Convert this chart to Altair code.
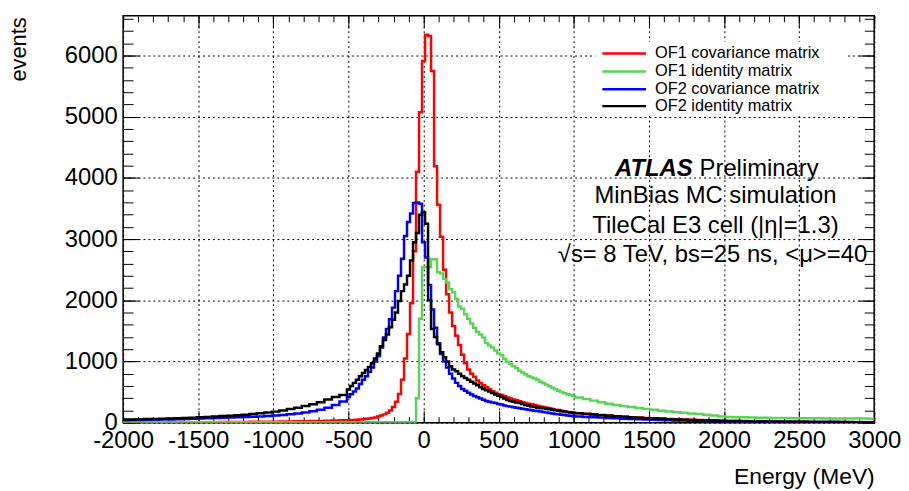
import altair as alt
import numpy as np
import pandas as pd

# ---------------- binning (MeV): 50 MeV in the far tails, 20 MeV in the core ----------------
LEFT_EDGES = np.arange(-2010, -510, 50)    # 30 bins
CORE_EDGES = np.arange(-510, 1010, 20)     # 76 bins (centres -500 ... 1000)
RIGHT_EDGES = np.arange(1010, 3010, 50)    # 40 bins
LAST_EDGE = 3010

# ---------------- events per bin ----------------
OF1_COV_LEFT = [3, 3, 4, 4, 4, 5, 5, 6, 6, 7, 7, 8, 8, 9, 10, 11, 12, 13, 14, 15,
                16, 18, 20, 22, 24, 26, 29, 32, 35, 38]
OF1_COV_CORE = [40, 42, 45, 48, 52, 56, 62, 68, 75, 85,
                100, 115, 135, 160, 200, 255, 340, 470, 700, 1050,
                1450, 1950, 2800, 4100, 5075, 5910, 6340, 6320, 5750, 4190,
                3560, 3040, 2500, 2100, 1800, 1580, 1420, 1270, 1110, 970,
                870, 800, 750, 690, 650, 610, 580, 545, 515, 490,
                465, 450, 430, 410, 395, 380, 365, 350, 335, 320,
                310, 300, 290, 278, 265, 255, 245, 235, 222, 212,
                205, 195, 185, 175, 168, 160]
OF1_COV_RIGHT = [155, 145, 135, 125, 115, 105, 98, 90, 84, 78, 72, 66, 60, 55, 50, 46, 42, 38, 35, 32,
                 29, 27, 25, 23, 21, 19, 17, 16, 15, 14, 13, 12, 11, 10, 10, 9, 8, 8, 7, 7]

OF1_ID_LEFT = [4, 4, 5, 5, 5, 5, 5, 5, 5, 5, 5, 5, 5, 5, 5, 5, 5, 5, 5, 5,
               5, 5, 5, 5, 5, 5, 5, 6, 6, 6]
OF1_ID_CORE = [6, 6, 6, 6, 6, 6, 6, 6, 6, 6,
               6, 6, 6, 6, 6, 6, 6, 6, 6, 6,
               7, 8, 10, 400, 1700, 2540, 2540, 2540, 2670, 2670,
               2460, 2440, 2350, 2290, 2180, 2130, 2020, 1900, 1860, 1770,
               1700, 1620, 1550, 1480, 1440, 1390, 1300, 1260, 1230, 1180,
               1130, 1100, 1040, 990, 960, 920, 890, 850, 820, 790,
               760, 740, 720, 700, 670, 645, 620, 595, 570, 545,
               520, 500, 480, 465, 450, 430]
OF1_ID_RIGHT = [410, 385, 360, 335, 310, 290, 270, 255, 240, 225, 210, 195, 182, 170, 160, 150, 140, 128, 115, 100,
                92, 90, 87, 84, 81, 80, 78, 76, 75, 73, 72, 71, 70, 69, 68, 68, 67, 66, 66, 65]

OF2_COV_LEFT = [40, 42, 44, 46, 48, 50, 53, 56, 60, 64, 68, 72, 76, 80, 84, 88, 92, 97, 102, 108,
                115, 125, 137, 150, 165, 185, 210, 245, 290, 345]
OF2_COV_CORE = [420, 465, 510, 560, 630, 700, 760, 830, 900, 1000,
                1090, 1230, 1390, 1530, 1690, 1880, 2150, 2400, 2680, 3050,
                3280, 3420, 3590, 3600, 3580, 2950, 2700, 2250, 1850, 1550,
                1300, 1120, 1000, 900, 800, 720, 650, 600, 550, 520,
                490, 460, 435, 415, 395, 375, 355, 340, 330, 320,
                305, 295, 280, 270, 262, 252, 243, 235, 228, 218,
                210, 203, 196, 189, 182, 175, 166, 158, 150, 143,
                136, 130, 124, 118, 112, 106]
OF2_COV_RIGHT = [100, 94, 88, 82, 76, 70, 64, 58, 54, 50, 46, 42, 39, 36, 33, 30, 28, 26, 24, 22,
                 20, 19, 18, 17, 16, 15, 14, 13, 12, 11, 11, 10, 10, 9, 9, 8, 8, 7, 7, 7]

OF2_ID_LEFT = [50, 52, 55, 58, 61, 64, 68, 72, 77, 82, 88, 94, 100, 107, 114, 122, 130, 140, 152, 165,
               180, 200, 222, 245, 272, 300, 335, 380, 420, 450]
OF2_ID_CORE = [540, 600, 650, 700, 760, 810, 860, 910, 970, 1050,
               1130, 1250, 1350, 1440, 1560, 1680, 1800, 1990, 2150, 2260,
               2400, 2650, 2950, 3100, 3400, 3440, 3250, 2000, 1530, 1400,
               1280, 1150, 1070, 1000, 920, 870, 840, 800, 760, 730,
               700, 670, 640, 610, 580, 550, 530, 510, 485, 460,
               440, 420, 395, 370, 355, 340, 330, 322, 305, 290,
               275, 265, 255, 245, 240, 235, 228, 220, 212, 204,
               196, 188, 180, 172, 165, 158]
OF2_ID_RIGHT = [152, 142, 132, 122, 112, 104, 96, 88, 80, 74, 68, 62, 56, 52, 48, 44, 40, 37, 34, 31,
                28, 26, 24, 22, 20, 18, 17, 16, 15, 14, 13, 12, 11, 10, 10, 9, 9, 8, 8, 7]

SERIES = ["OF1 covariance matrix", "OF1 identity matrix", "OF2 covariance matrix", "OF2 identity matrix"]
COLORS = ["#ff0000", "#59d454", "#0000ff", "#000000"]
VALUES = [
    (OF1_COV_LEFT, OF1_COV_CORE, OF1_COV_RIGHT),
    (OF1_ID_LEFT, OF1_ID_CORE, OF1_ID_RIGHT),
    (OF2_COV_LEFT, OF2_COV_CORE, OF2_COV_RIGHT),
    (OF2_ID_LEFT, OF2_ID_CORE, OF2_ID_RIGHT),
]

X_MAJOR = list(range(-2000, 3001, 500))
X_MINOR = list(range(-2000, 3001, 100))
Y_MAJOR = list(range(0, 6001, 1000))
Y_MINOR = list(range(0, 6601, 200))

ANNOT_LINES = ["MinBias MC simulation", "TileCal E3 cell (|η|=1.3)", "√s= 8 TeV, bs=25 ns, <μ>=40"]

# ---------------- chart ----------------
FONT = "Liberation Sans"
W, H = 757, 410
XS = alt.Scale(domain=[-2000, 3000], nice=False, zero=False)
YS = alt.Scale(domain=[0, 6650], nice=False, zero=True)
LABEL_EXPR = "'' + datum.value"


def hist_frame(parts):
    left, core, right = parts
    vals = list(left) + list(core) + list(right)
    edges = [int(e) for e in LEFT_EDGES] + [int(e) for e in CORE_EDGES] + [int(e) for e in RIGHT_EDGES]
    assert len(vals) == len(edges)
    return pd.DataFrame({"E": edges + [LAST_EDGE], "N": vals + [vals[-1]]})


def axis(orient, values, size, labels=False, pad=0):
    kw = dict(orient=orient, values=values, domain=False, grid=False, title=None,
              ticks=True, tickSize=size, offset=-size, tickColor="black", tickWidth=1,
              labels=labels, labelFlush=False, labelOverlap=False)
    if labels:
        kw.update(labelFont=FONT, labelFontSize=24, labelColor="black",
                  labelPadding=pad, labelExpr=LABEL_EXPR)
    return alt.Axis(**kw)


dummy = pd.DataFrame({"E": [-2000, 3000], "N": [0, 6650]})
one = pd.DataFrame({"a": [0]})


def carrier(xaxis, yaxis):
    return alt.Chart(dummy).mark_point(opacity=0).encode(
        x=alt.X("E:Q", scale=XS, axis=xaxis),
        y=alt.Y("N:Q", scale=YS, axis=yaxis),
    )


grid_x = alt.Axis(orient="bottom", values=X_MAJOR, grid=True, gridColor="black", gridDash=[2, 3],
                  gridWidth=1, gridOpacity=1, ticks=False, labels=False, domain=False,
                  title="Energy (MeV)", titleFont=FONT, titleFontSize=23, titleFontWeight="normal",
                  titleColor="black", titleAlign="right", titleBaseline="alphabetic",
                  titleX=W, titleY=61)
grid_y = alt.Axis(orient="left", values=Y_MAJOR, grid=True, gridColor="black", gridDash=[2, 3],
                  gridWidth=1, gridOpacity=1, ticks=False, labels=False, domain=False,
                  title="events", titleFont=FONT, titleFontSize=22, titleFontWeight="normal",
                  titleColor="black", titleAngle=270, titleAlign="right", titleBaseline="alphabetic",
                  titleX=-98, titleY=1)

layers = [
    carrier(grid_x, grid_y),
    carrier(axis("bottom", X_MAJOR, 12, True, 6), axis("left", Y_MAJOR, 16, True, 6)),
    carrier(axis("bottom", X_MINOR, 6), axis("left", Y_MINOR, 10)),
    carrier(axis("top", X_MAJOR, 12), axis("right", Y_MAJOR, 16)),
    carrier(axis("top", X_MINOR, 6), axis("right", Y_MINOR, 10)),
]

# legend background (white, no border)
layers.append(alt.Chart(one).mark_rect(fill="white").encode(
    x=alt.value(476), x2=alt.value(728), y=alt.value(26), y2=alt.value(101)))

for parts, color in zip(VALUES, COLORS):
    layers.append(alt.Chart(hist_frame(parts)).mark_line(
        interpolate="step-after", color=color, strokeWidth=2.5, clip=True).encode(
        x=alt.X("E:Q", scale=XS, axis=None),
        y=alt.Y("N:Q", scale=YS, axis=None)))

LEG_Y = [38, 56, 74, 91]
for name, color, yy in zip(SERIES, COLORS, LEG_Y):
    layers.append(alt.Chart(one).mark_rule(color=color, strokeWidth=2.5).encode(
        x=alt.value(483), x2=alt.value(527), y=alt.value(yy)))
    layers.append(alt.Chart(one).mark_text(
        align="left", baseline="middle", font=FONT, fontSize=16.5, color="black").encode(
        x=alt.value(536), y=alt.value(yy), text=alt.value(name)))

layers.append(alt.Chart(one).mark_text(
    align="right", baseline="alphabetic", font=FONT, fontSize=24, fontWeight="bold",
    fontStyle="italic", color="black").encode(
    x=alt.value(574), y=alt.value(161), text=alt.value("ATLAS")))
layers.append(alt.Chart(one).mark_text(
    align="left", baseline="alphabetic", font=FONT, fontSize=24, color="black").encode(
    x=alt.value(581), y=alt.value(161), text=alt.value("Preliminary")))
for txt, yy, xx in zip(ANNOT_LINES, [189, 219, 248], [597, 597, 594]):
    layers.append(alt.Chart(one).mark_text(
        align="center", baseline="alphabetic", font=FONT, fontSize=24, color="black").encode(
        x=alt.value(xx), y=alt.value(yy), text=alt.value(txt)))

chart = alt.layer(*layers).resolve_axis(x="independent", y="independent").properties(
    width=W, height=H,
    padding={"left": 116, "top": 6, "right": 27, "bottom": 67},
    autosize=alt.AutoSizeParams(type="none"),
    background="white",
).configure_view(stroke="black", strokeWidth=1.5)

chart.save("out.html", embed_options={"renderer": "svg", "actions": False})
